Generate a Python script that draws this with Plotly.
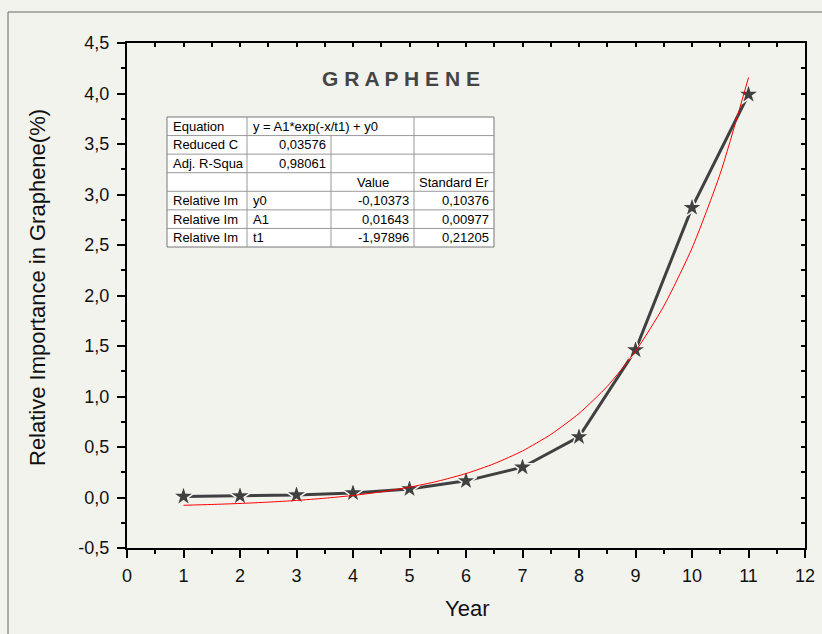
import plotly.graph_objects as go

# data
years = [1, 2, 3, 4, 5, 6, 7, 8, 9, 10, 11]
importance = [0.01, 0.015, 0.025, 0.045, 0.085, 0.165, 0.30, 0.60, 1.46, 2.87, 3.99]

fit_x = [1, 1.5, 2, 2.5, 3, 3.5, 4, 4.5, 5, 5.5, 6, 6.5, 7, 7.5, 8, 8.5, 9, 9.5, 10, 10.5, 11]
fit_y = [-0.077, -0.069, -0.059, -0.046, -0.029, -0.007, 0.02, 0.056, 0.102, 0.161,
         0.237, 0.335, 0.461, 0.624, 0.832, 1.101, 1.448, 1.894, 2.468, 3.207, 4.158]

x_ticks = [0, 1, 2, 3, 4, 5, 6, 7, 8, 9, 10, 11, 12]
y_ticks = [-0.5, 0, 0.5, 1, 1.5, 2, 2.5, 3, 3.5, 4, 4.5]
y_ticklabels = ["-0,5", "0,0", "0,5", "1,0", "1,5", "2,0", "2,5", "3,0", "3,5", "4,0", "4,5"]

title_text = "G R A P H E N E"
x_title = "Year"
y_title = "Relative Importance in Graphene(%)"

table_rows = [
    ["Equation", "y = A1*exp(-x/t1) + y0", "", ""],
    ["Reduced C", "0,03576", "", ""],
    ["Adj. R-Squa", "0,98061", "", ""],
    ["", "", "Value", "Standard Er"],
    ["Relative Im", "y0", "-0,10373", "0,10376"],
    ["Relative Im", "A1", "0,01643", "0,00977"],
    ["Relative Im", "t1", "-1,97896", "0,21205"],
]

BG = "#f3f3ee"
DARK = "#404040"
FONT = "Liberation Sans, Arial, sans-serif"

W, H = 822, 634
L, R, T, B = 127, 17, 43, 86
pw, ph = W - L - R, H - T - B


def px(x):
    return (x - L) / pw


def py(y):
    return (H - B - y) / ph


fig = go.Figure()

fig.add_trace(go.Scatter(
    x=years, y=importance, mode="lines+markers",
    line=dict(color=DARK, width=3),
    marker=dict(symbol="star", size=16, color=DARK, line=dict(color=BG, width=1.5)),
    showlegend=False,
))
fig.add_trace(go.Scatter(
    x=fit_x, y=fit_y, mode="lines",
    line=dict(color="#ff0000", width=1, shape="spline", smoothing=0.6),
    showlegend=False,
))
# dummy trace so the mirrored top/right axes get drawn
fig.add_trace(go.Scatter(x=[None], y=[None], xaxis="x2", yaxis="y2", showlegend=False))

axis_font = dict(family=FONT, size=18, color="#111")

fig.update_layout(
    width=W, height=H,
    margin=dict(l=L, r=R, t=T, b=B, autoexpand=False),
    paper_bgcolor=BG, plot_bgcolor=BG,
    font=dict(family=FONT, color="#111"),
    xaxis=dict(
        range=[0, 12], tickvals=x_ticks, showgrid=False, zeroline=False, automargin=False,
        showline=True, linecolor="black", linewidth=2,
        ticks="outside", ticklen=8, tickwidth=2, tickcolor="black",
        minor=dict(dtick=0.5, ticks="outside", ticklen=4, tickwidth=2, tickcolor="black"),
        tickfont=axis_font, ticklabelstandoff=2,
    ),
    yaxis=dict(
        range=[-0.5, 4.5], tickvals=y_ticks, ticktext=y_ticklabels, showgrid=False,
        zeroline=False, automargin=False,
        showline=True, linecolor="black", linewidth=2,
        ticks="outside", ticklen=8, tickwidth=2, tickcolor="black",
        minor=dict(dtick=0.25, tick0=0, ticks="outside", ticklen=4, tickwidth=2, tickcolor="black"),
        tickfont=axis_font, ticklabelstandoff=4,
    ),
    xaxis2=dict(
        overlaying="x", side="top", range=[0, 12], dtick=0.5, showgrid=False, zeroline=False,
        showline=True, linecolor="black", linewidth=2, showticklabels=False,
        ticks="inside", ticklen=4, tickwidth=1.5, tickcolor="black",
    ),
    yaxis2=dict(
        overlaying="y", side="right", range=[-0.5, 4.5], dtick=0.25, showgrid=False, zeroline=False,
        showline=True, linecolor="black", linewidth=2, showticklabels=False,
        ticks="inside", ticklen=4, tickwidth=1.5, tickcolor="black",
    ),
)

shapes = []
annotations = []

# outer frame (only top and left edges visible in the window)
shapes.append(dict(type="rect", xref="paper", yref="paper",
                   x0=px(8), x1=px(900), y0=py(700), y1=py(12),
                   line=dict(color="#666", width=1), layer="below"))

annotations.append(dict(text="<b>" + title_text + "</b>", xref="paper", yref="paper",
                        x=px(401), y=py(79), xanchor="center", yanchor="middle",
                        showarrow=False, font=dict(family=FONT, size=21, color="#444")))
annotations.append(dict(text=x_title, xref="paper", yref="paper",
                        x=px(467), y=py(608), xanchor="center", yanchor="middle",
                        showarrow=False, font=dict(family=FONT, size=22, color="#111")))
annotations.append(dict(text=y_title, xref="paper", yref="paper", textangle=-90,
                        x=px(37), y=py(288), xanchor="center", yanchor="middle",
                        showarrow=False, font=dict(family=FONT, size=22, color="#111")))

# fit results table
col_x = [167, 247, 331, 414, 494]
top, bottom = 117, 247
row_h = (bottom - top) / len(table_rows)

shapes.append(dict(type="rect", xref="paper", yref="paper",
                   x0=px(col_x[0]), x1=px(col_x[-1]), y0=py(bottom), y1=py(top),
                   fillcolor="white", line=dict(color="#777", width=1)))
for i in range(1, len(table_rows)):
    yy = py(top + i * row_h)
    shapes.append(dict(type="line", xref="paper", yref="paper",
                       x0=px(col_x[0]), x1=px(col_x[-1]), y0=yy, y1=yy,
                       line=dict(color="#999", width=1)))
for j in range(1, 4):
    start = top if j != 2 else top + row_h
    shapes.append(dict(type="line", xref="paper", yref="paper",
                       x0=px(col_x[j]), x1=px(col_x[j]), y0=py(start), y1=py(bottom),
                       line=dict(color="#999", width=1)))

for i, row in enumerate(table_rows):
    yc = py(top + (i + 0.5) * row_h)
    for j, txt in enumerate(row):
        if not txt:
            continue
        if i == 3:
            xa, xx = "center", (col_x[j] + col_x[j + 1]) / 2
        elif j == 0 or (j == 1 and (i == 0 or i >= 4)):
            xa, xx = "left", col_x[j] + 4
        else:
            xa, xx = "right", col_x[j + 1] - 3
        annotations.append(dict(text=txt, xref="paper", yref="paper", x=px(xx), y=yc,
                                xanchor=xa, yanchor="middle", showarrow=False,
                                font=dict(family=FONT, size=13, color="black")))

fig.update_layout(shapes=shapes, annotations=annotations)

# drop the default page margin so the figure sits at the window's corner
fig.write_html("out.html", config={"displayModeBar": False},
               post_script="document.body.style.margin='0';")
